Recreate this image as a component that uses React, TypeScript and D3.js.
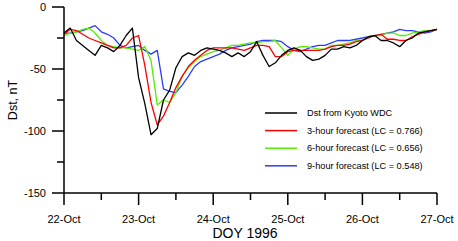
import * as d3 from 'd3';

// 2-hour samples starting 22-Oct 00 UT
const STEP_HOURS = 2;
const DAY_LABELS = ['22-Oct', '23-Oct', '24-Oct', '25-Oct', '26-Oct', '27-Oct'];
const Y_MAJOR = [0, -50, -100, -150];
const Y_MINOR = [-25, -75, -125];

const dstKyoto = [
  -21, -17, -27, -31, -35, -39, -31, -33, -36, -31, -23, -17, -57, -78, -103, -98,
  -75, -67, -49, -40, -37, -39, -35, -33, -34, -35, -37, -40, -37, -40, -36, -28,
  -39, -48, -45, -39, -35, -33, -35, -40, -43, -42, -39, -34, -34, -32, -33, -31,
  -27, -24, -23, -27, -27, -29, -32, -27, -25, -21, -20, -19, -18,
];
const fc3h = [
  -22, -18, -19, -22, -25, -27, -29, -31, -33, -33, -31, -25, -23, -47, -77, -95,
  -88, -77, -65, -56, -48, -43, -39, -35, -33, -33, -33, -33, -34, -35, -33, -31,
  -31, -32, -40, -40, -36, -35, -35, -35, -35, -35, -34, -32, -31, -31, -30, -28,
  -27, -25, -23, -22, -26, -26, -27, -27, -24, -22, -20, -19, -18,
];
const fc6h = [
  -23, -21, -20, -18, -17, -21, -27, -31, -32, -33, -33, -34, -35, -32, -43, -79,
  -75, -77, -69, -56, -49, -44, -40, -38, -36, -35, -33, -31, -31, -30, -29, -29,
  -28, -28, -27, -33, -39, -34, -32, -32, -33, -34, -34, -31, -31, -30, -29, -27,
  -27, -24, -23, -23, -21, -21, -23, -23, -21, -20, -19, -19, -18,
];
const fc9h = [
  -21, -21, -20, -19, -17, -15, -20, -22, -25, -31, -33, -32, -31, -35, -38, -35,
  -66, -68, -69, -63, -56, -48, -44, -42, -40, -38, -35, -33, -32, -31, -30, -28,
  -27, -27, -27, -28, -32, -35, -36, -34, -32, -31, -31, -29, -27, -27, -27, -26,
  -25, -24, -23, -22, -21, -20, -18, -19, -19, -20, -21, -20, -18,
];

const SERIES = [
  { name: 'Dst from Kyoto WDC', color: '#000000', values: dstKyoto },
  { name: '3-hour forecast (LC = 0.766)', color: '#ff0000', values: fc3h },
  { name: '6-hour forecast (LC = 0.656)', color: '#55ee00', values: fc6h },
  { name: '9-hour forecast (LC = 0.548)', color: '#2a3cff', values: fc9h },
];

const W = 458;
const H = 241;
const LEFT = 64;
const RIGHT = 437;
const TOP = 7;
const BOTTOM = 193;
const FONT = 'Liberation Sans, Arial, sans-serif';

const x = d3.scaleLinear().domain([0, 120]).range([LEFT, RIGHT]);
const y = d3.scaleLinear().domain([0, -150]).range([TOP, BOTTOM]);

const line = d3.line<number>()
  .x((_, i) => x(i * STEP_HOURS))
  .y(v => y(v));

export default function App() {
  const drawOrder = [SERIES[3], SERIES[2], SERIES[1], SERIES[0]];
  return (
    <svg width={W} height={H} style={{ position: 'absolute', left: 0, top: 0, background: '#fff' }}
      fontFamily={FONT}>
      {drawOrder.map(s => (
        <path key={s.name} d={line(s.values) ?? ''} fill="none" stroke={s.color}
          strokeWidth={1.3} strokeLinejoin="round" />
      ))}

      {/* y axis */}
      <line x1={LEFT} y1={TOP} x2={LEFT} y2={BOTTOM} stroke="#000" strokeWidth={1.5} />
      {Y_MAJOR.map(t => (
        <g key={`ym${t}`}>
          <line x1={LEFT - 12} x2={LEFT} y1={y(t)} y2={y(t)} stroke="#000" strokeWidth={1.5} />
          <text x={LEFT - 18} y={y(t)} dy="0.35em" textAnchor="end" fontSize={11}>{t}</text>
        </g>
      ))}
      {Y_MINOR.map(t => (
        <line key={`yn${t}`} x1={LEFT - 7} x2={LEFT} y1={y(t)} y2={y(t)} stroke="#000" strokeWidth={1.5} />
      ))}
      <text transform={`translate(17, ${(TOP + BOTTOM) / 2}) rotate(-90)`} textAnchor="middle"
        fontSize={12.5}>Dst, nT</text>

      {/* x axis */}
      <line x1={LEFT} y1={BOTTOM} x2={RIGHT} y2={BOTTOM} stroke="#000" strokeWidth={1.5} />
      {DAY_LABELS.map((lab, i) => (
        <g key={lab}>
          <line x1={x(i * 24)} x2={x(i * 24)} y1={BOTTOM} y2={BOTTOM + 12} stroke="#000" strokeWidth={1.5} />
          <text x={x(i * 24)} y={BOTTOM + 30} textAnchor="middle" fontSize={11}>{lab}</text>
          {i < DAY_LABELS.length - 1 && (
            <line x1={x(i * 24 + 12)} x2={x(i * 24 + 12)} y1={BOTTOM} y2={BOTTOM + 7}
              stroke="#000" strokeWidth={1.5} />
          )}
        </g>
      ))}
      <text x={245} y={238} textAnchor="middle" fontSize={14}>DOY 1996</text>

      {/* legend */}
      {SERIES.map((s, i) => (
        <g key={`lg${i}`} transform={`translate(265, ${113 + i * 17.6})`}>
          <line x1={0} x2={32} y1={0} y2={0} stroke={s.color} strokeWidth={1.5} />
          <text x={42} y={0} dy="0.35em" fontSize={9.2}>{s.name}</text>
        </g>
      ))}
    </svg>
  );
}
